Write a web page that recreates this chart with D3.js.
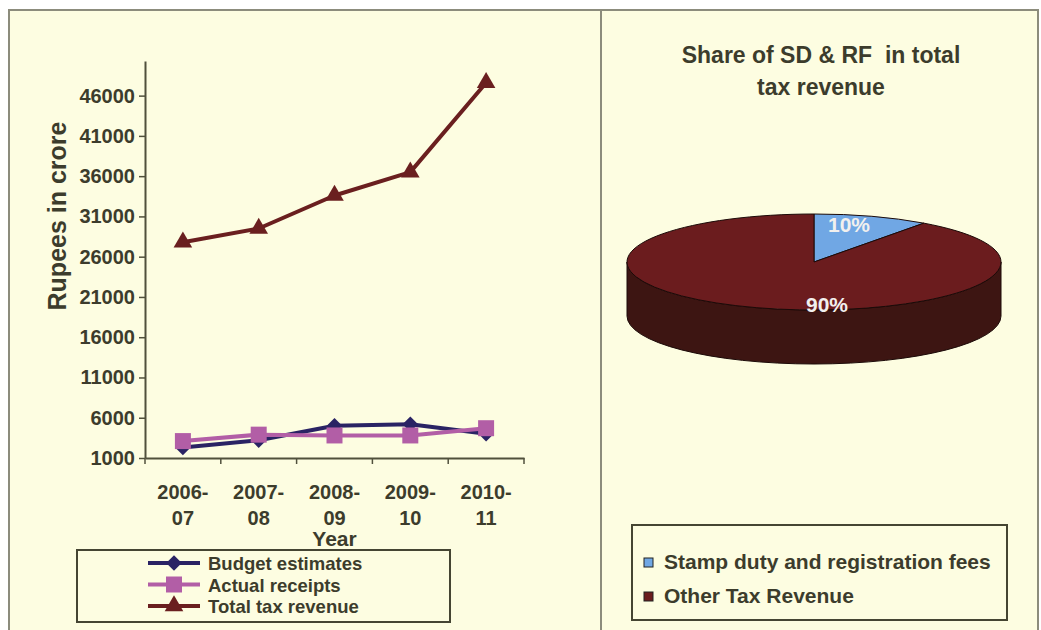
<!DOCTYPE html>
<html>
<head>
<meta charset="utf-8">
<script src="https://cdn.jsdelivr.net/npm/d3@7"></script>
<style>
  body { margin: 0; background: #ffffff; }
  svg text { font-family: "Liberation Sans", Arial, sans-serif; font-weight: bold; fill: #3c3c2c; }
</style>
</head>
<body>
<svg id="chart" width="1041" height="630"></svg>
<script>
// ---- data ----
const years = ["2006-07", "2007-08", "2008-09", "2009-10", "2010-11"];
const budgetEstimates = [2300, 3200, 5000, 5200, 4000];
const actualReceipts = [3100, 3900, 3800, 3800, 4700];
const totalTaxRevenue = [27800, 29500, 33600, 36500, 47600];
const yTicks = [1000, 6000, 11000, 16000, 21000, 26000, 31000, 36000, 41000, 46000];
const seriesNames = ["Budget estimates", "Actual receipts", "Total tax revenue"];

const shareNames = ["Stamp duty and registration fees", "Other Tax Revenue"];
const shareValues = [10, 90];

// ---- styling ----
const panelFill = "#fdfde1";
const frameColor = "#8c8c7c";
const axisColor = "#50503c";
const seriesColors = ["#2a2364", "#b25ea6", "#6a1f1f"];
const shareTop = ["#70a7e4", "#6b1c1e"];
const shareSide = ["#3f6d9e", "#3d1512"];

const svg = d3.select("#chart");

// panels and frame
svg.append("rect").attr("x", 9).attr("y", 10).attr("width", 1029).attr("height", 630)
  .attr("fill", panelFill).attr("stroke", frameColor).attr("stroke-width", 2);
svg.append("line").attr("x1", 601).attr("x2", 601).attr("y1", 10).attr("y2", 630)
  .attr("stroke", frameColor).attr("stroke-width", 2);

// ================= line chart =================
const x = d3.scaleBand().domain(years).range([145, 524]).padding(0);
const y = d3.scaleLinear().domain([1000, 50300]).range([458, 61]);

const gy = svg.append("g").attr("transform", "translate(145,0)")
  .call(d3.axisLeft(y).tickValues(yTicks).tickSize(6).tickSizeOuter(0).tickPadding(4).tickFormat(d => d));
gy.select(".domain").attr("stroke", axisColor).attr("stroke-width", 2);
gy.selectAll(".tick line").attr("stroke", axisColor).attr("stroke-width", 1.5);
gy.selectAll(".tick text").attr("font-size", 20).attr("fill", "#3c3c2c")
  .attr("font-family", "Liberation Sans, Arial, sans-serif").attr("font-weight", "bold");

const gx = svg.append("g").attr("transform", "translate(0,458)")
  .call(d3.axisBottom(x).tickSize(0).tickSizeOuter(0).tickFormat(""));
gx.select(".domain").attr("stroke", axisColor).attr("stroke-width", 2);

// category boundary ticks
const boundaries = years.map(d => x(d)).concat([x.range()[1]]);
svg.append("g").selectAll("line").data(boundaries).join("line")
  .attr("x1", d => d).attr("x2", d => d).attr("y1", 458).attr("y2", 464)
  .attr("stroke", axisColor).attr("stroke-width", 1.5);

// two-line category labels
const xl = svg.append("g").selectAll("text").data(years).join("text")
  .attr("text-anchor", "middle").attr("font-size", 20)
  .attr("transform", d => `translate(${x(d) + x.bandwidth() / 2},0)`);
xl.append("tspan").attr("x", 0).attr("y", 499).text(d => d.split("-")[0] + "-");
xl.append("tspan").attr("x", 0).attr("y", 525).text(d => d.split("-")[1]);

svg.append("text").attr("x", (x.range()[0] + x.range()[1]) / 2).attr("y", 546)
  .attr("text-anchor", "middle").attr("font-size", 21).text("Year");

svg.append("text").attr("transform", "translate(66,216) rotate(-90)")
  .attr("text-anchor", "middle").attr("font-size", 25).text("Rupees in crore");

const series = [budgetEstimates, actualReceipts, totalTaxRevenue];
const symbols = [
  d3.symbol().type(d3.symbolSquare).size(120),
  d3.symbol().type(d3.symbolSquare).size(256),
  d3.symbol().type(d3.symbolTriangle).size(150)
];
const rotations = [45, 0, 0];
const line = d3.line().x((d, i) => x(years[i]) + x.bandwidth() / 2).y(d => y(d));

series.forEach((vals, si) => {
  const g = svg.append("g");
  g.append("path").datum(vals).attr("d", line)
    .attr("fill", "none").attr("stroke", seriesColors[si]).attr("stroke-width", 4)
    .attr("stroke-linejoin", "round");
  g.selectAll("path.m").data(vals).join("path").attr("class", "m")
    .attr("d", symbols[si])
    .attr("transform", (d, i) => `translate(${x(years[i]) + x.bandwidth() / 2},${y(d)}) rotate(${rotations[si]})`)
    .attr("fill", seriesColors[si]);
});

// legend for line chart
const lg = svg.append("g");
lg.append("rect").attr("x", 77).attr("y", 550).attr("width", 373).attr("height", 72)
  .attr("fill", "none").attr("stroke", "#454532").attr("stroke-width", 2);
seriesNames.forEach((name, si) => {
  const cy = 563 + si * 21.5;
  lg.append("line").attr("x1", 148).attr("x2", 200).attr("y1", cy).attr("y2", cy)
    .attr("stroke", seriesColors[si]).attr("stroke-width", 4);
  lg.append("path").attr("d", symbols[si])
    .attr("transform", `translate(174,${cy}) rotate(${rotations[si]})`)
    .attr("fill", seriesColors[si]);
  lg.append("text").attr("x", 208).attr("y", cy + 7).attr("font-size", 18.5).text(name);
});

// ================= 3D pie =================
svg.append("text").attr("x", 821).attr("y", 63).attr("text-anchor", "middle")
  .attr("font-size", 23).style("white-space", "pre").text("Share of SD & RF  in total");
svg.append("text").attr("x", 821).attr("y", 95).attr("text-anchor", "middle")
  .attr("font-size", 23).text("tax revenue");

const cx = 814, cy = 262, rx = 187, ry = 48, depth = 54;
const pt = (t, dy = 0) => [cx + rx * Math.sin(t), cy - ry * Math.cos(t) + dy];
const arcs = d3.pie().sort(null).value(d => d)(shareValues);

const pg = svg.append("g");
// side wall (front half only is visible)
arcs.forEach((a, i) => {
  const s = Math.max(a.startAngle, Math.PI / 2);
  const e = Math.min(a.endAngle, 3 * Math.PI / 2);
  if (e <= s) return;
  const p0 = pt(s), p1 = pt(e), q1 = pt(e, depth), q0 = pt(s, depth);
  const large = (e - s) > Math.PI ? 1 : 0;
  pg.append("path")
    .attr("d", `M${p0}A${rx},${ry} 0 ${large} 1 ${p1}L${q1}A${rx},${ry} 0 ${large} 0 ${q0}Z`)
    .attr("fill", shareSide[i]).attr("stroke", "#1c0a08").attr("stroke-width", 1);
});
// top surface
arcs.forEach((a, i) => {
  const p0 = pt(a.startAngle), p1 = pt(a.endAngle);
  const large = (a.endAngle - a.startAngle) > Math.PI ? 1 : 0;
  pg.append("path")
    .attr("d", `M${cx},${cy}L${p0}A${rx},${ry} 0 ${large} 1 ${p1}Z`)
    .attr("fill", shareTop[i]).attr("stroke", "#1c0a08").attr("stroke-width", 1);
});
// value labels
const labelOffsets = [[35, -37], [13, 43]];
arcs.forEach((a, i) => {
  pg.append("text").attr("x", cx + labelOffsets[i][0]).attr("y", cy + labelOffsets[i][1] + 7)
    .attr("text-anchor", "middle").attr("font-size", 21).style("fill", "#f2f0ee")
    .text(a.data + "%");
});

// legend for pie
const pl = svg.append("g");
pl.append("rect").attr("x", 632).attr("y", 525).attr("width", 375).attr("height", 95)
  .attr("fill", "none").attr("stroke", "#454532").attr("stroke-width", 2);
shareNames.forEach((name, i) => {
  const by = 569 + i * 34;
  pl.append("rect").attr("x", 644).attr("y", by - 11).attr("width", 9).attr("height", 9)
    .attr("fill", shareTop[i]).attr("stroke", "#222").attr("stroke-width", 1);
  pl.append("text").attr("x", 664).attr("y", by).attr("font-size", 21).text(name);
});
</script>
</body>
</html>
